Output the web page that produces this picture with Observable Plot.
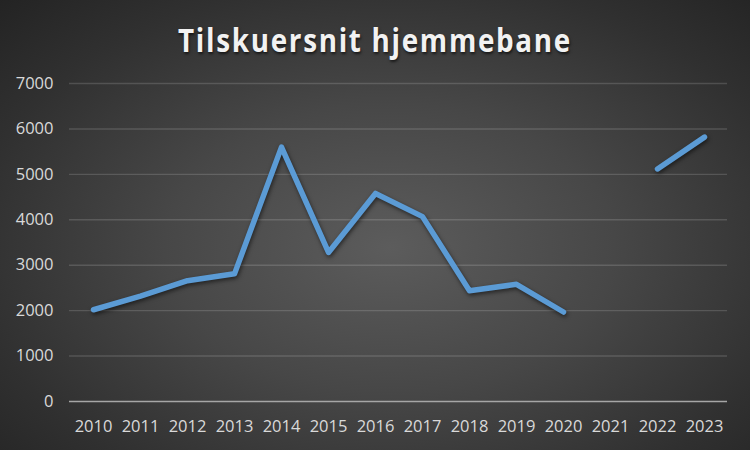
<!DOCTYPE html>
<html>
<head>
<meta charset="utf-8">
<script src="https://cdn.jsdelivr.net/npm/d3@7"></script>
<script src="https://cdn.jsdelivr.net/npm/@observablehq/plot@0.6"></script>
<style>
  html, body { margin: 0; padding: 0; }
  #chart {
    width: 750px; height: 450px; position: relative; overflow: hidden;
    background: radial-gradient(ellipse 75% 80% at 52% 55%, #5c5c5c 0%, #474747 40%, #303030 75%, #222222 100%);
    font-family: "Open Sans", sans-serif;
  }
  #title {
    height: 70px; position: relative;
  }
  #title span {
    position: absolute; left: 375px; top: 17px;
    font-family: "Open Sans", sans-serif; font-weight: bold; font-size: 33px;
    letter-spacing: 2px; color: #f2f2f2; white-space: nowrap;
    text-shadow: 1px 2px 3px rgba(0,0,0,0.6);
    transform-origin: 0 0;
  }
  svg { display: block; }
</style>
</head>
<body>
<div id="chart">
  <div id="title"><span id="t">Tilskuersnit hjemmebane</span></div>
</div>
<script>
const years = ["2010","2011","2012","2013","2014","2015","2016","2017","2018","2019","2020","2021","2022","2023"];
const attendance = [2020, 2320, 2660, 2810, 5600, 3280, 4580, 4070, 2440, 2580, 1970, null, 5120, 5820];
const yTicks = [0, 1000, 2000, 3000, 4000, 5000, 6000, 7000];

const data = years.map((y, i) => ({year: y, value: attendance[i]}));

const plot = Plot.plot({
  width: 750,
  height: 380,
  marginTop: 13,
  marginBottom: 49,
  marginLeft: 69,
  marginRight: 23,
  style: {background: "transparent", color: "#d9d9d9", fontFamily: "Open Sans, sans-serif", fontSize: "16.5px"},
  x: {type: "point", domain: years, padding: 0.5, label: null},
  y: {domain: [0, 7000], label: null},
  marks: [
    Plot.gridY(yTicks.filter(d => d > 0), {stroke: "#ffffff", strokeOpacity: 0.15, strokeWidth: 1.4}),
    Plot.ruleY([0], {stroke: "#a6a6a6", strokeWidth: 1.5}),
    Plot.axisY(yTicks, {tickSize: 0, tickPadding: 16, fill: "#d9d9d9", label: null, tickFormat: d => String(d)}),
    Plot.axisX({tickSize: 0, tickPadding: 19, fill: "#d9d9d9", label: null}),
    Plot.line(data, {x: "year", y: "value", stroke: "#5b9bd5", strokeWidth: 5.5, strokeLinecap: "round", strokeLinejoin: "round"})
  ]
});
document.getElementById("chart").appendChild(plot);
plot.querySelectorAll("g[aria-label='line'] path").forEach(p => p.style.filter = "drop-shadow(1px 2px 2px rgba(0,0,0,0.55))");

const t = document.getElementById("t");
const w = t.getBoundingClientRect().width;
const target = 394;
const s = target / w;
t.style.transform = `scaleX(${s}) translateX(${-w/2}px)`;
</script>
</body>
</html>
